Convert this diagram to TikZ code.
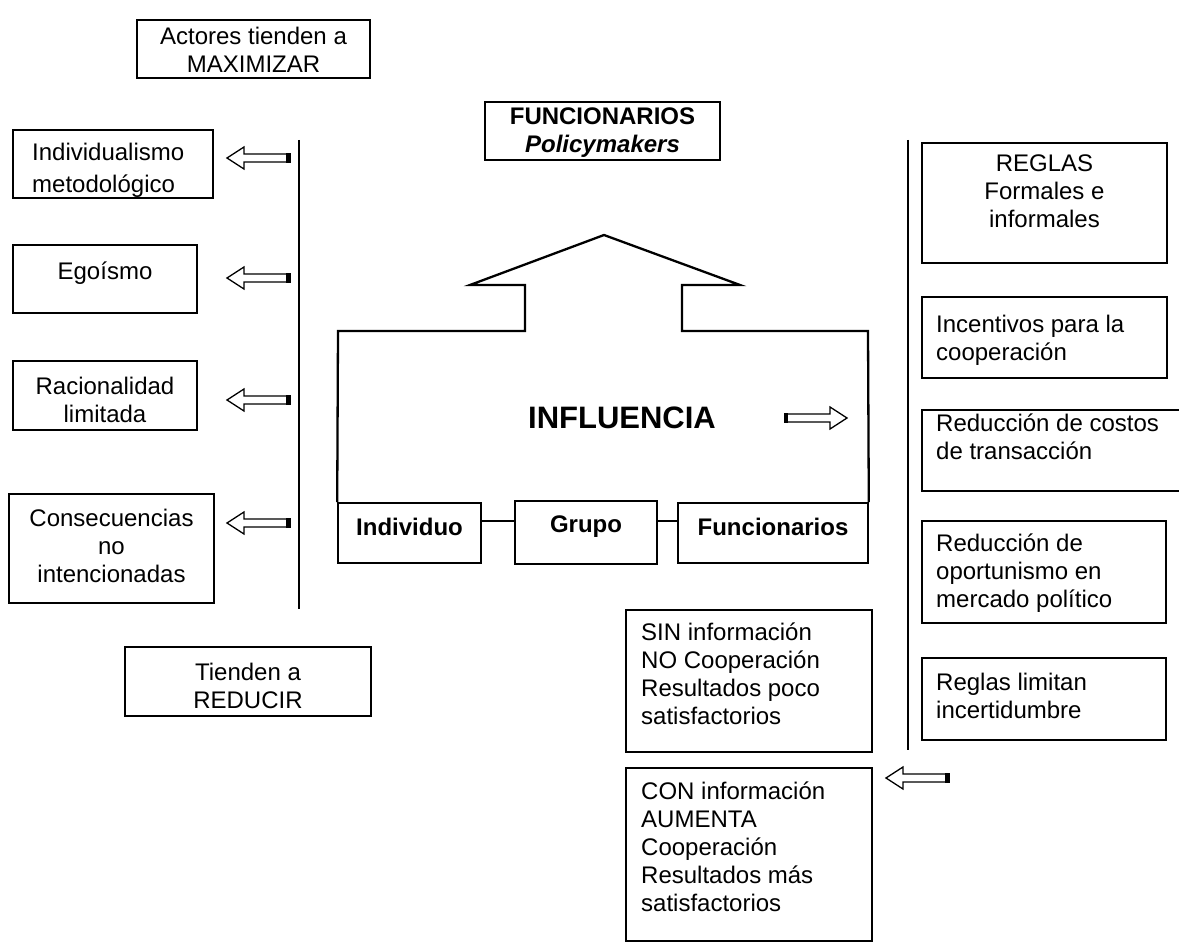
\documentclass[tikz,border=0pt]{standalone}
\usepackage{fontspec}
\setmainfont{Liberation Sans}

\begin{document}
\begin{tikzpicture}[x=1pt, y=-1pt,
    box/.style = {draw, line width=1.6pt, inner sep=0pt},
    txt/.style = {inner sep=0pt, font=\fontsize{24}{28}\selectfont, align=center, anchor=north},
    ltxt/.style = {txt, align=left, anchor=north west},
    btxt/.style = {txt, font=\fontsize{24}{28}\selectfont\bfseries},
    bar/.style = {line width=2.3pt},
    link/.style = {line width=1.6pt},
    larrow/.pic = {
        \draw[line width=1.3pt, fill=white] (0,0) -- (17,-11) -- (17,-4) -- (61,-4) -- (61,4) -- (17,4) -- (17,11) -- cycle;
        \fill (59,-4.6) rectangle (63.5,4.6);
    }]
    \useasboundingbox (0,0) rectangle (1179,944);

    \node[box, minimum width=233, minimum height=58] (maxim) at (253.5,49) {};
    \node[txt] (maxim-t) at (253.5,27) {Actores tienden a\\MAXIMIZAR};
    \node[box, minimum width=235, minimum height=58] (policy) at (602.5,131) {};
    \node[btxt] (policy-t) at (602.5,108) {FUNCIONARIOS\\\textit{Policymakers}};

    \draw[bar] (299,140) -- (299,609);
    \node[box, minimum width=200, minimum height=68] (indiv) at (113,164) {};
    \begin{scope}
        \clip (13,130) rectangle (213,197);
        \node[ltxt] (indiv-t) at (32,143) {Individualismo\\[4pt]metodológico};
    \end{scope}
    \node[box, minimum width=184, minimum height=68] (ego) at (105,279) {};
    \node[txt] (ego-t) at (105,262) {Egoísmo};
    \node[box, minimum width=184, minimum height=69] (racio) at (105,395.5) {};
    \node[txt] (racio-t) at (105,377) {Racionalidad\\limitada};
    \node[box, minimum width=205, minimum height=109] (conse) at (111.5,548.5) {};
    \node[txt] (conse-t) at (111.5,509) {Consecuencias\\no\\intencionadas};
    \node[box, minimum width=246, minimum height=69] (reducir) at (248,681.5) {};
    \node[txt] (reducir-t) at (248,663) {Tienden a\\REDUCIR};
    \pic at (227,158) {larrow};
    \pic at (227,278) {larrow};
    \pic at (227,400) {larrow};
    \pic at (227,523) {larrow};

    \node[box, minimum width=143, minimum height=60] (individuo) at (409.5,533) {};
    \node[box, minimum width=142, minimum height=63] (grupo) at (586,532.5) {};
    \node[box, minimum width=190, minimum height=60] (funcionarios) at (773,533) {};
    \node[btxt] (individuo-t) at (409.5,518) {Individuo};
    \node[btxt] (grupo-t) at (586,516) {Grupo};
    \node[btxt] (funcionarios-t) at (773,518) {Funcionarios};
    \draw[link] ([yshift=12]individuo.east) -- ([yshift=12]individuo.east -| grupo.west);
    \draw[link] ([yshift=12]funcionarios.west) -- ([yshift=12]funcionarios.west -| grupo.east);
    \draw[bar] (individuo.north west) -- (338,331) -- (525,331) -- (525,285) -- (470,285) -- (604,235)
        -- (740,285) -- (682,285) -- (682,331) -- (868,331) -- (funcionarios.north east);
    \node[inner sep=0pt, font=\fontsize{31}{36}\selectfont\bfseries] (influencia) at (622,418) {INFLUENCIA};
    \pic[rotate=180] at (847,418) {larrow};

    \draw[bar] (908,140) -- (908,750);
    \node[box, minimum width=245, minimum height=120] (reglas) at (1044.5,203) {};
    \node[txt] (reglas-t) at (1044.5,155) {REGLAS\\Formales e\\informales};
    \node[box, minimum width=245, minimum height=81] (incent) at (1044.5,337.5) {};
    \node[ltxt] (incent-t) at (936,315) {Incentivos para la\\cooperación};
    \node[box, minimum width=261, minimum height=81] (costos) at (1052.5,450.5) {};
    \node[ltxt] (costos-t) at (936,414) {Reducción de costos\\de transacción};
    \node[box, minimum width=244, minimum height=102] (oport) at (1044,572) {};
    \node[ltxt] (oport-t) at (936,534) {Reducción de\\oportunismo en\\mercado político};
    \node[box, minimum width=244, minimum height=82] (limitan) at (1044,699) {};
    \node[ltxt] (limitan-t) at (936,673) {Reglas limitan\\incertidumbre};

    \node[box, minimum width=246, minimum height=142] (sininfo) at (749,681) {};
    \node[ltxt] (sininfo-t) at (641,623) {SIN información\\NO Cooperación\\Resultados poco\\satisfactorios};
    \node[box, minimum width=246, minimum height=173] (coninfo) at (749,854.5) {};
    \node[ltxt] (coninfo-t) at (641,782) {CON información\\AUMENTA\\Cooperación\\Resultados más\\satisfactorios};
    \pic at (886,778) {larrow};
\end{tikzpicture}
\end{document}
